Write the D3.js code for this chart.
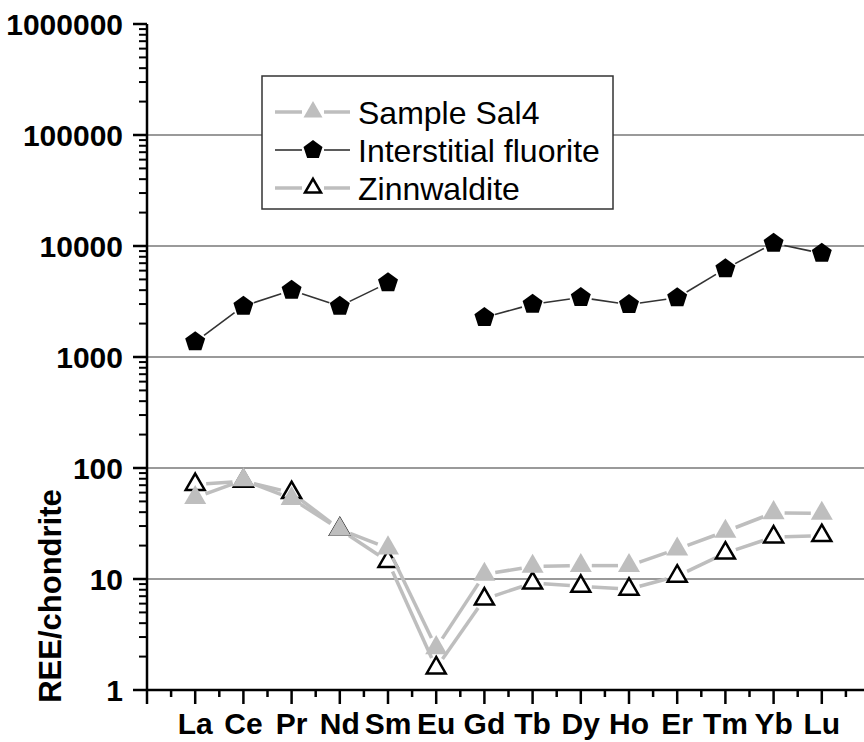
<!DOCTYPE html>
<html>
<head>
<meta charset="utf-8">
<script src="https://cdn.jsdelivr.net/npm/d3@7"></script>
<style>
  body { margin: 0; background: #fff; }
  svg { display: block; font-family: "Liberation Sans", Arial, sans-serif; }
</style>
</head>
<body>
<script>
// REE patterns, chondrite normalised
const elements = ["La", "Ce", "Pr", "Nd", "Sm", "Eu", "Gd", "Tb", "Dy", "Ho", "Er", "Tm", "Yb", "Lu"];
const sal4 = [54, 78, 53, 28, 19, 2.4, 11, 13, 13.2, 13.2, 18.6, 26.8, 39.5, 39];
const fluorite = [1370, 2870, 4000, 2870, 4660, null, 2270, 2990, 3430, 2970, 3420, 6240, 10570, 8590];
const zinnwaldite = [71, 76, 60, 28, 14.4, 1.58, 6.6, 9.2, 8.6, 8.1, 10.6, 17.1, 23.9, 24.6];
const yTicks = [1, 10, 100, 1000, 10000, 100000, 1000000];
const gridValues = [10, 100, 1000, 10000, 100000];
const legendNames = ["Sample Sal4", "Interstitial fluorite", "Zinnwaldite"];

const width = 864, height = 742;
const svg = d3.select("body").append("svg")
  .attr("width", width)
  .attr("height", height);

const x = d3.scaleLinear().domain([0, 15]).range([147, 870]);
const y = d3.scaleLog().domain([1, 1e6]).range([690, 24]);

// grid lines
svg.selectAll(".grid").data(gridValues).enter().append("line")
  .attr("x1", x(0)).attr("x2", width)
  .attr("y1", d => y(d)).attr("y2", d => y(d))
  .attr("stroke", "#9a9a9a").attr("stroke-width", 2);

// minor y ticks
let minorY = [];
for (let d = 1; d < 1e6; d *= 10) {
  for (let k = 2; k <= 9; k++) minorY.push(d * k);
}
svg.selectAll(".ymin").data(minorY).enter().append("line")
  .attr("x1", x(0) - 8).attr("x2", x(0))
  .attr("y1", d => y(d)).attr("y2", d => y(d))
  .attr("stroke", "#000").attr("stroke-width", 2);

// major y ticks
svg.selectAll(".ymaj").data(yTicks).enter().append("line")
  .attr("x1", x(0) - 14).attr("x2", x(0))
  .attr("y1", d => y(d)).attr("y2", d => y(d))
  .attr("stroke", "#000").attr("stroke-width", 2.5);

svg.selectAll(".ylab").data(yTicks).enter().append("text")
  .attr("x", x(0) - 24)
  .attr("y", d => y(d))
  .attr("dy", "0.36em")
  .attr("text-anchor", "end")
  .attr("font-size", 30)
  .attr("font-weight", "bold")
  .text(d => d);

// x ticks
const majorX = d3.range(0, 16);
const minorX = d3.range(0.5, 15, 1);
svg.selectAll(".xmaj").data(majorX).enter().append("line")
  .attr("x1", d => x(d)).attr("x2", d => x(d))
  .attr("y1", y(1)).attr("y2", y(1) + 14)
  .attr("stroke", "#000").attr("stroke-width", 2.5);
svg.selectAll(".xmin").data(minorX).enter().append("line")
  .attr("x1", d => x(d)).attr("x2", d => x(d))
  .attr("y1", y(1)).attr("y2", y(1) + 7)
  .attr("stroke", "#000").attr("stroke-width", 2.5);

svg.selectAll(".xlab").data(elements).enter().append("text")
  .attr("x", (d, i) => x(i + 1))
  .attr("y", 734)
  .attr("text-anchor", "middle")
  .attr("font-size", 30)
  .attr("font-weight", "bold")
  .text(d => d);

// axis lines
svg.append("line")
  .attr("x1", x(0)).attr("x2", x(0))
  .attr("y1", y(1e6)).attr("y2", y(1))
  .attr("stroke", "#000").attr("stroke-width", 2.5);
svg.append("line")
  .attr("x1", x(0)).attr("x2", width)
  .attr("y1", y(1)).attr("y2", y(1))
  .attr("stroke", "#000").attr("stroke-width", 2.5);

svg.append("text")
  .attr("transform", "translate(61," + ((y(1) + y(100)) / 2 + 17) + ") rotate(-90)")
  .attr("text-anchor", "middle")
  .attr("font-size", 31)
  .attr("font-weight", "bold")
  .text("REE/chondrite");

// marker shapes
function triangle(s) {
  const h = s * Math.sqrt(3) / 2;
  return "M0," + (-h * 2 / 3) + "L" + (s / 2) + "," + (h / 3) + "L" + (-s / 2) + "," + (h / 3) + "Z";
}
function pentagon(r) {
  let pts = [];
  for (let i = 0; i < 5; i++) {
    const a = -Math.PI / 2 + i * 2 * Math.PI / 5;
    pts.push([r * Math.cos(a), r * Math.sin(a)]);
  }
  return "M" + pts.map(p => p.join(",")).join("L") + "Z";
}

// lines with a small gap at the markers
function drawSeries(values, color, lw, gap) {
  const g = svg.append("g");
  for (let i = 0; i < values.length - 1; i++) {
    if (values[i] == null || values[i + 1] == null) continue;
    const x1 = x(i + 1), y1 = y(values[i]);
    const x2 = x(i + 2), y2 = y(values[i + 1]);
    const len = Math.hypot(x2 - x1, y2 - y1);
    if (len <= 2 * gap) continue;
    const ux = (x2 - x1) / len, uy = (y2 - y1) / len;
    g.append("line")
      .attr("x1", x1 + ux * gap).attr("y1", y1 + uy * gap)
      .attr("x2", x2 - ux * gap).attr("y2", y2 - uy * gap)
      .attr("stroke", color).attr("stroke-width", lw);
  }
  return g;
}

const gray = "#bebebe";

drawSeries(zinnwaldite, gray, 3.5, 11);
svg.selectAll(".zin").data(zinnwaldite).enter().append("path")
  .attr("transform", (d, i) => "translate(" + x(i + 1) + "," + y(d) + ")")
  .attr("d", triangle(19))
  .attr("fill", "#fff").attr("stroke", "#000").attr("stroke-width", 2.5);

drawSeries(sal4, gray, 3.5, 11);
svg.selectAll(".sal").data(sal4).enter().append("path")
  .attr("transform", (d, i) => "translate(" + x(i + 1) + "," + y(d) + ")")
  .attr("d", triangle(22))
  .attr("fill", gray);

drawSeries(fluorite, "#333", 1.6, 11);
svg.selectAll(".flu").data(fluorite.map((v, i) => [i, v]).filter(d => d[1] != null)).enter().append("path")
  .attr("transform", d => "translate(" + x(d[0] + 1) + "," + y(d[1]) + ")")
  .attr("d", pentagon(10.5))
  .attr("fill", "#000");

// legend
const lg = svg.append("g");
lg.append("rect")
  .attr("x", 262).attr("y", 76).attr("width", 351).attr("height", 133)
  .attr("fill", "#fff").attr("stroke", "#333").attr("stroke-width", 1.5);
const rowY = [112, 150, 188];
const lineCol = [gray, "#333", gray];
const lineW = [3.5, 1.6, 3.5];
legendNames.forEach((name, i) => {
  lg.append("line").attr("x1", 275).attr("x2", 302).attr("y1", rowY[i]).attr("y2", rowY[i])
    .attr("stroke", lineCol[i]).attr("stroke-width", lineW[i]);
  lg.append("line").attr("x1", 324).attr("x2", 350).attr("y1", rowY[i]).attr("y2", rowY[i])
    .attr("stroke", lineCol[i]).attr("stroke-width", lineW[i]);
  let m = lg.append("path").attr("transform", "translate(313," + rowY[i] + ")");
  if (i === 0) m.attr("d", triangle(19)).attr("fill", gray);
  if (i === 1) m.attr("d", pentagon(10)).attr("fill", "#000");
  if (i === 2) m.attr("d", triangle(16)).attr("fill", "#fff").attr("stroke", "#000").attr("stroke-width", 2.5);
  lg.append("text")
    .attr("x", 358).attr("y", rowY[i])
    .attr("dy", "0.36em")
    .attr("font-size", 32)
    .text(name);
});
</script>
</body>
</html>
